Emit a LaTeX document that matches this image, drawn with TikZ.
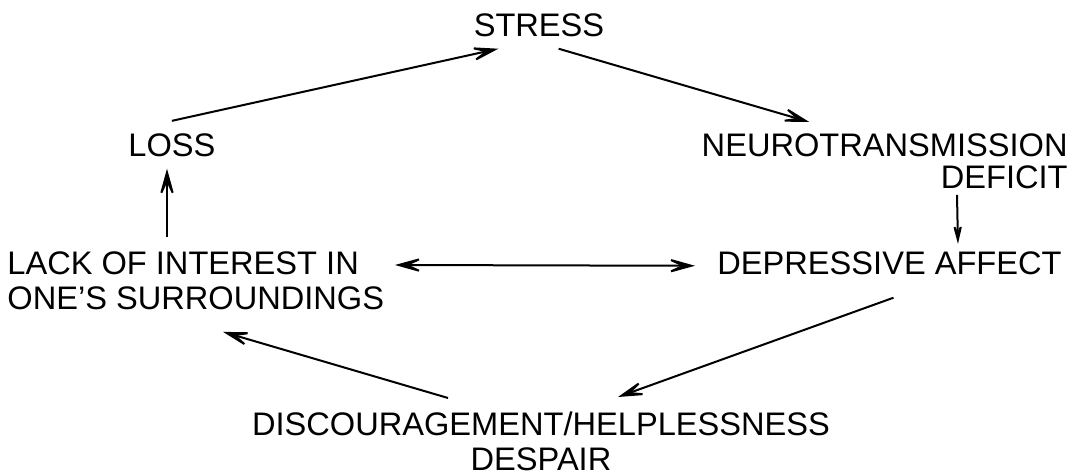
\documentclass[tikz,border=0pt]{standalone}
\usepackage{fontspec}
\setmainfont{Liberation Sans}
\usetikzlibrary{arrows.meta,calc}
\begin{document}
\begin{tikzpicture}[x=0.5pt,y=-0.5pt,
  lbl/.style={inner sep=0pt, font=\fontsize{16.3pt}{16pt}\selectfont},
  lbl2/.style={inner sep=0pt, font=\fontsize{16.3pt}{17.5pt}\selectfont},
  tip/.tip={Stealth[length=18pt,width=10pt,inset=11pt]},
  arr/.style={line width=1pt, -tip},
  arrs/.style={line width=1pt, -{Stealth[length=14pt,width=7pt,inset=8pt]}},
  darr/.style={line width=1pt, tip-tip},
  ]
\useasboundingbox (0,0) rectangle (1073,475);
\node[lbl, anchor=base] (stress) at (539,37) {STRESS};
\node[lbl, anchor=base west] (loss) at (128,157) {LOSS};
\node[lbl, anchor=north east, align=right] (neuro) at (1068,133) {NEUROTRANSMISSION\\DEFICIT};
\node[lbl, anchor=base west] (dep) at (717,275) {DEPRESSIVE AFFECT};
\node[lbl2, anchor=north west, align=left] (lack) at (7,251) {LACK OF INTEREST IN\\ONE'S SURROUNDINGS};
\node[lbl2, anchor=north, align=center] (disc) at (541,411) {DISCOURAGEMENT/HELPLESSNESS\\DESPAIR};

\draw[arr] ($(loss.north)+(0,-13)$) -- ($(stress.south west)+(25,11)$);
\draw[arr] ($(stress.south east)+(-46,11)$) -- ($(neuro.north west)+(108,-11)$);
\draw[arrs] ($(neuro.south east)+(-111,6)$) -- ($(dep.north east)+(-104,-8)$);
\draw[darr] ($(lack.north west)+(388,14)$) -- ($(dep.west)+(-22,2)$);
\draw[arr] ($(dep.south)+(4,22)$) -- ($(disc.north)+(77,-14)$);
\draw[arr] ($(disc.north)+(-93,-13)$) -- ($(lack.south west)+(216,22)$);
\draw[arr] ($(lack.north west)+(160,-14)$) -- ($(loss.south west)+(39,11)$);
\end{tikzpicture}
\end{document}
